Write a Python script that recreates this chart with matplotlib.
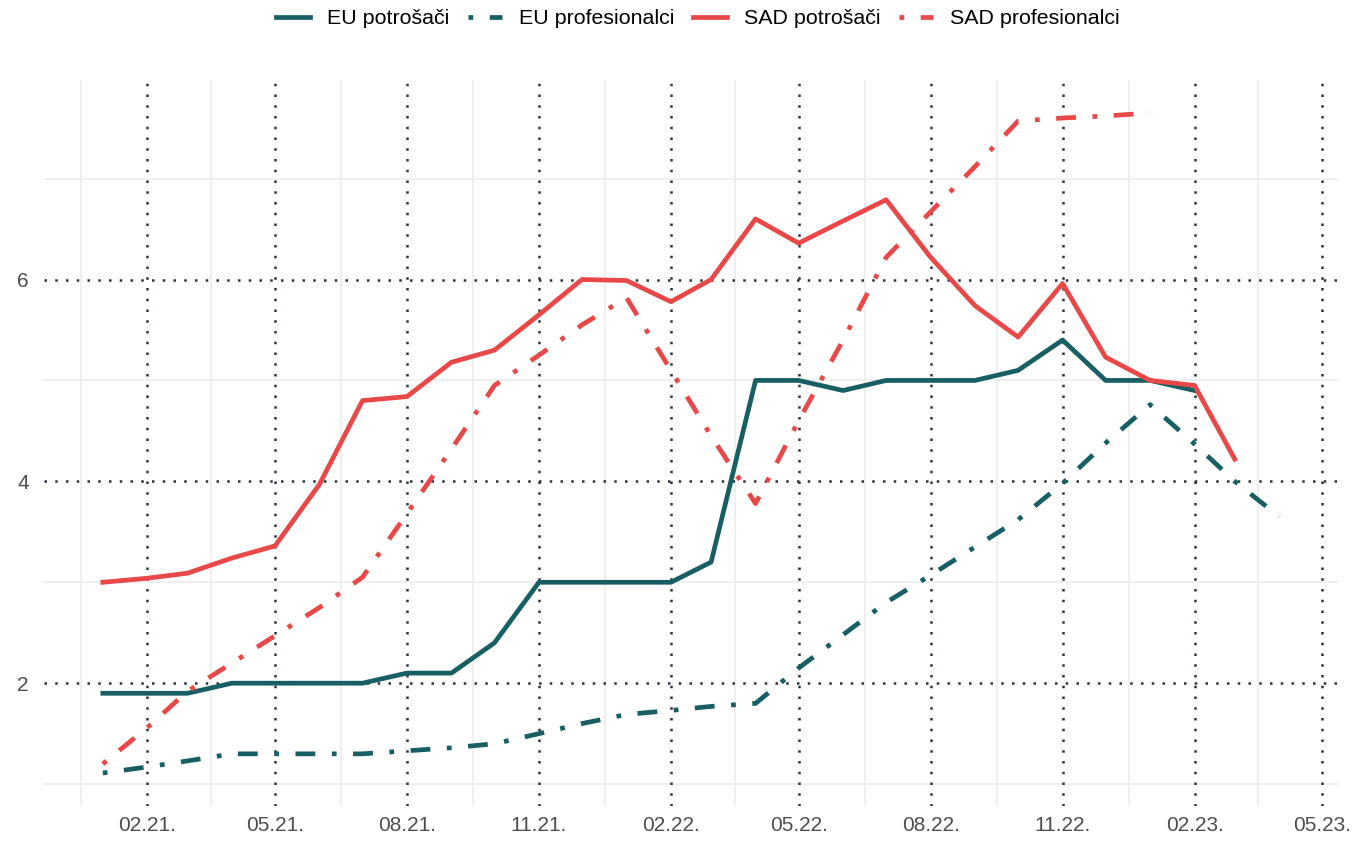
import pandas as pd
import matplotlib.pyplot as plt
import matplotlib.dates as mdates

plt.rcParams["font.family"] = ["Liberation Sans", "DejaVu Sans"]

# monthly values, first of month
eu_cons_months = pd.date_range("2021-01-01", "2023-02-01", freq="MS")
eu_cons = [1.9, 1.9, 1.9, 2.0, 2.0, 2.0, 2.0, 2.1, 2.1, 2.4, 3.0, 3.0,
           3.0, 3.0, 3.2, 5.0, 5.0, 4.9, 5.0, 5.0, 5.0, 5.1, 5.4, 5.0,
           5.0, 4.9]

eu_prof_months = pd.date_range("2021-01-01", "2023-04-01", freq="MS")
eu_prof = [1.11, 1.17, 1.23, 1.3, 1.3, 1.3, 1.3, 1.33, 1.36, 1.4, 1.5, 1.6,
           1.69, 1.73, 1.77, 1.8, 2.15, 2.48, 2.8, 3.07, 3.35, 3.62, 3.98, 4.38,
           4.76, 4.37, 4.0, 3.65]

us_cons_months = pd.date_range("2021-01-01", "2023-03-01", freq="MS")
us_cons = [3.0, 3.04, 3.09, 3.24, 3.36, 3.97, 4.8, 4.84, 5.18, 5.3, 5.65, 6.0,
           5.99, 5.78, 6.0, 6.6, 6.36, 6.58, 6.79, 6.22, 5.74, 5.43, 5.96, 5.23,
           5.0, 4.95, 4.22]

us_prof_months = pd.date_range("2021-01-01", "2023-01-01", freq="MS")
us_prof = [1.2, 1.56, 1.92, 2.2, 2.47, 2.75, 3.05, 3.68, 4.32, 4.95, 5.25, 5.55,
           5.82, 5.1, 4.45, 3.78, 4.6, 5.4, 6.22, 6.67, 7.12, 7.57, 7.6, 7.62,
           7.65]

major_dates = pd.date_range("2021-02-01", "2023-05-01", freq="3MS")
y_major = [2, 4, 6]
y_minor = [1, 3, 5, 7]

teal = "#175f63"
red = "#e84848"
dotdash = (0, (1, 3.5, 4.2, 3.5))
dotted = (0, (1, 3.3))

fig = plt.figure(figsize=(13.58, 8.41), dpi=100)
ax = fig.add_axes([0.0324, 0.0416, 0.9529, 0.8633])

ax.plot(eu_cons_months, eu_cons, color=teal, lw=3.4, label="EU potrošači")
ax.plot(eu_prof_months, eu_prof, color=teal, lw=3.4, ls=dotdash, label="EU profesionalci")
ax.plot(us_cons_months, us_cons, color=red, lw=3.4, label="SAD potrošači")
ax.plot(us_prof_months, us_prof, color=red, lw=3.4, ls=dotdash, label="SAD profesionalci")

# limits with 5% expansion like ggplot
x0 = mdates.date2num(pd.Timestamp("2021-01-01"))
x1 = mdates.date2num(pd.Timestamp("2023-04-01"))
pad = (x1 - x0) * 0.05
ax.set_xlim(x0 - pad, x1 + pad)
lo, hi = 1.11, 7.65
ax.set_ylim(lo - (hi - lo) * 0.05, hi + (hi - lo) * 0.05)

major_num = [mdates.date2num(d) for d in major_dates]
all_major = [mdates.date2num(pd.Timestamp("2020-11-01"))] + major_num
minor_num = [(a + b) / 2 for a, b in zip(all_major[:-1], all_major[1:])]

for m in minor_num:
    ax.axvline(m, color="#ebebeb", lw=1.1, zorder=0)
for v in y_minor:
    ax.axhline(v, color="#ebebeb", lw=1.1, zorder=0)
for m in major_num:
    ax.axvline(m, color="#2a3140", lw=1.8, ls=dotted, zorder=1)
for v in y_major:
    ax.axhline(v, color="#2a3140", lw=1.8, ls=dotted, zorder=1)

ax.set_xticks(major_num)
ax.set_xticklabels([d.strftime("%m.%y.") for d in major_dates])
ax.set_yticks(y_major)
ax.set_yticklabels([str(v) for v in y_major])
ax.tick_params(length=0, labelsize=15, labelcolor="#4d4d4d")
ax.tick_params(axis="x", pad=7)
ax.tick_params(axis="y", pad=11)
for s in ax.spines.values():
    s.set_visible(False)

fig.legend(loc="upper center", bbox_to_anchor=(0.514, 1.012), ncol=4, frameon=False,
           fontsize=15.4, handlelength=1.6, columnspacing=0.85, handletextpad=0.8)

fig.savefig("out.png", dpi=100)
